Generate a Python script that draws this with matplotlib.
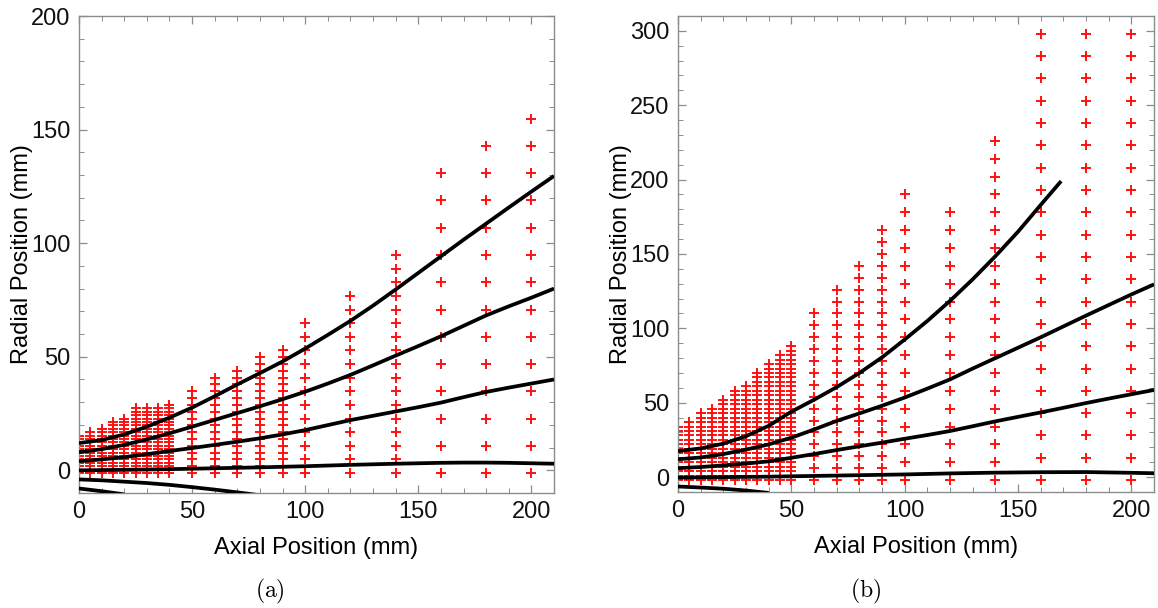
import numpy as np
import matplotlib.pyplot as plt
from matplotlib.ticker import MultipleLocator

plt.rcParams['font.family'] = ['Liberation Sans', 'DejaVu Sans']
plt.rcParams['mathtext.fontset'] = 'cm'

# ---- panel (a): probe grid, one column per axial station ----
a_col_x = [0, 5, 10, 15, 20, 25, 30, 35, 40, 50, 60, 70, 80, 90, 100, 120, 140, 160, 180, 200]
a_col_lo = [-1.2] * 20
a_col_step = [1.5] * 9 + [3] * 5 + [6] * 3 + [12] * 3
a_col_hi = [15.3, 16.8, 18.3, 21.3, 22.8, 27.3, 27.3, 27.3, 28.8,
            34.8, 40.8, 43.8, 49.8, 52.8, 64.8, 76.8, 94.8, 130.8, 142.8, 154.8]

# traced field lines for panel (a)
a_x12 = [0, 10, 20, 30, 40, 50, 60, 70, 80, 90, 100, 110, 120, 130, 140, 150, 160, 170, 180, 190, 200, 210]
a_y12 = [12, 13.3, 15.8, 19.2, 23.2, 27.6, 32.6, 37.8, 42.8, 47.9, 53.6, 59.6, 65.8, 72.5, 79.6, 86.9, 94.2, 101.5, 108.6, 115.7, 122.7, 129.6]
a_x8 = [0, 10, 20, 30, 40, 50, 60, 70, 80, 90, 100, 110, 120, 130, 140, 150, 160, 170, 180, 190, 200, 210]
a_y8 = [8, 9.3, 11.2, 13.6, 16.3, 19.2, 22.2, 25.2, 28.2, 31.3, 34.6, 38.2, 42, 46.2, 50.5, 54.7, 59.0, 63.6, 68.2, 72.2, 76.0, 80.0]
a_x4 = [0, 10, 20, 30, 40, 50, 60, 70, 80, 90, 100, 110, 120, 130, 140, 150, 160, 170, 180, 190, 200, 210]
a_y4 = [4, 4.8, 5.8, 7.1, 8.5, 9.8, 11.2, 12.6, 14.1, 15.8, 17.7, 19.9, 22.1, 24.0, 25.9, 27.8, 29.8, 32.2, 34.5, 36.4, 38.2, 40.0]
a_x0 = [0, 20, 40, 60, 80, 100, 120, 140, 160, 170, 180, 190, 200, 210]
a_y0 = [0, 0.2, 0.5, 0.9, 1.3, 1.8, 2.4, 2.9, 3.3, 3.4, 3.4, 3.3, 3.1, 2.9]
a_xm4 = [0, 10, 20, 30, 40, 50, 60, 70, 80]
a_ym4 = [-4, -4.4, -5.0, -5.6, -6.4, -7.4, -8.5, -9.7, -11]
a_xm8 = [0, 10, 20]
a_ym8 = [-8, -9.2, -10.6]

# ---- panel (b) ----
b_col_x = [0, 5, 10, 15, 20, 25, 30, 35, 40, 45, 50, 60, 70, 80, 90, 100, 120, 140, 160, 180, 200]
b_col_lo = [-2] * 21
b_col_step = [3] * 11 + [8] * 4 + [12] * 3 + [15] * 3
b_col_hi = [34, 37, 43, 46, 52, 58, 61, 70, 76, 82, 88,
            110, 126, 142, 166, 190, 178, 226, 298, 298, 298]

b_x18 = [0, 10, 20, 30, 40, 50, 60, 70, 80, 90, 100, 110, 120, 130, 140, 150, 160, 169]
b_y18 = [17.5, 19.3, 22.5, 27.5, 34.5, 44, 52, 60.5, 70, 80.5, 92.5, 105, 118.5, 133, 148.5, 165, 183, 199]
b_x12 = [0, 10, 20, 30, 40, 50, 60, 70, 80, 90, 100, 110, 120, 130, 140, 150, 160, 170, 180, 190, 200, 210]
b_y12 = [12, 13.2, 15.5, 18.5, 22, 26.5, 32, 37.8, 42.8, 48, 53.5, 59.5, 65.7, 73, 80, 87, 94, 101.3, 108.6, 115.7, 122.8, 129.6]
b_x6 = [0, 10, 20, 30, 40, 50, 60, 70, 80, 90, 100, 110, 120, 130, 140, 150, 160, 170, 180, 190, 200, 210]
b_y6 = [6, 6.8, 7.9, 9.1, 10.6, 13, 15.5, 18.2, 20.7, 23.2, 25.8, 28.3, 31, 34.2, 37.5, 40.5, 43.5, 46.6, 49.8, 52.8, 55.7, 58.6]
b_x0 = [0, 20, 40, 60, 80, 100, 120, 140, 160, 180, 200, 210]
b_y0 = [-0.3, 0, 0.3, 0.8, 1.3, 1.8, 2.5, 3.0, 3.3, 3.4, 2.9, 2.6]
b_xm6 = [0, 10, 20, 30, 36, 40]
b_ym6 = [-6.3, -7.0, -7.8, -9.0, -10.0, -10.6]

frame = '#8c8c8c'


def panel(ax, cols, lines, ylim, yticks):
    for x, lo, st, hi in zip(*cols):
        r = np.arange(lo, hi + st / 2, st)
        ax.plot([x] * len(r), r, '+', color='#ff1010', ms=7.2, mew=1.4, zorder=2)
    for lx, ly in lines:
        ax.plot(lx, ly, color='black', lw=2.7, solid_capstyle='butt', zorder=3)
    ax.set_xlim(0, 210)
    ax.set_ylim(*ylim)
    ax.set_xticks([0, 50, 100, 150, 200])
    ax.set_yticks(yticks)
    ax.xaxis.set_minor_locator(MultipleLocator(10))
    ax.yaxis.set_minor_locator(MultipleLocator(10))
    ax.tick_params(which='both', direction='in', top=True, right=True,
                   color=frame, labelsize=17, labelcolor='#111111')
    ax.tick_params(which='major', length=6, width=0.9, pad=6)
    ax.tick_params(which='minor', length=3.5, width=0.7)
    for s in ax.spines.values():
        s.set_color(frame)
        s.set_linewidth(1.0)
    ax.set_xlabel('Axial Position (mm)', fontsize=17, labelpad=10)
    ax.set_ylabel('Radial Position (mm)', fontsize=17, labelpad=-1)


fig = plt.figure(figsize=(11.58, 6.08), dpi=100)
ax1 = fig.add_axes([0.0682, 0.1891, 0.4102, 0.7845])
ax2 = fig.add_axes([0.5855, 0.1908, 0.4111, 0.7829])

panel(ax1, (a_col_x, a_col_lo, a_col_step, a_col_hi),
      [(a_x12, a_y12), (a_x8, a_y8), (a_x4, a_y4), (a_x0, a_y0), (a_xm4, a_ym4), (a_xm8, a_ym8)],
      (-10, 200), [0, 50, 100, 150, 200])
panel(ax2, (b_col_x, b_col_lo, b_col_step, b_col_hi),
      [(b_x18, b_y18), (b_x12, b_y12), (b_x6, b_y6), (b_x0, b_y0), (b_xm6, b_ym6)],
      (-10, 310), [0, 50, 100, 150, 200, 250, 300])

fig.text(0.2332, 0.028, r'$\mathrm{(a)}$', ha='center', va='center', fontsize=17)
fig.text(0.7478, 0.028, r'$\mathrm{(b)}$', ha='center', va='center', fontsize=17)

fig.savefig('out.png', dpi=100)
